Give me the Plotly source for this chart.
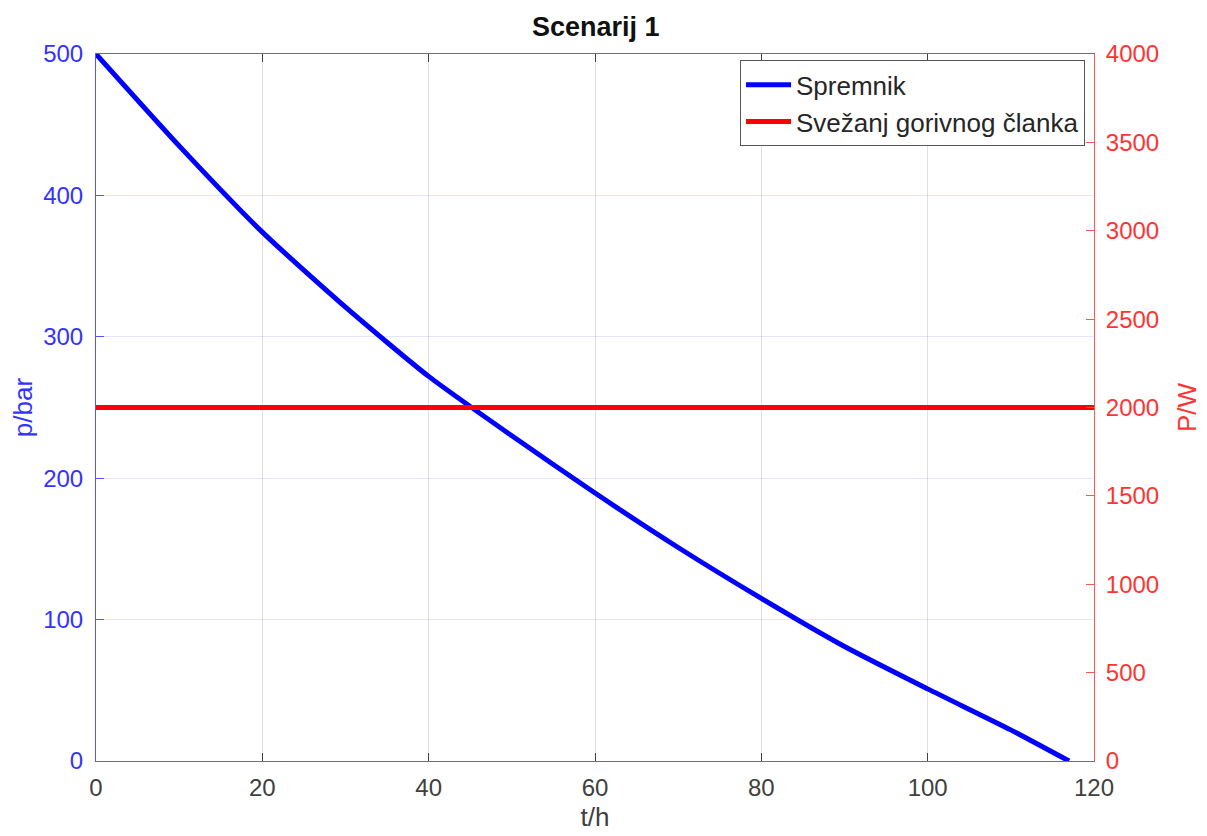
import plotly.graph_objects as go

# vrijeme (h) i tlak u spremniku (bar), očitano s grafa
t_h = [0, 10, 20, 30, 40, 50, 60, 70, 80, 90, 100, 110, 117]
p_bar = [500, 435, 374, 321, 272, 230, 189.5, 151, 115, 81, 51, 22, 0]

# snaga svežnja gorivnog članka (W)
t_snaga = [0, 120]
P_W = [2000, 2000]

plava = "#0000ff"
crvena = "#ff0000"
tekst_plavi = "#3333ff"
tekst_crveni = "#ff3333"
siva = "#404040"
font_ime = "Liberation Sans, Arial, sans-serif"

fig = go.Figure()

fig.add_trace(go.Scatter(
    x=t_h, y=p_bar, mode="lines", name="Spremnik",
    line=dict(color=plava, width=5, shape="spline", smoothing=0.6),
    yaxis="y"
))

fig.add_trace(go.Scatter(
    x=t_snaga, y=P_W, mode="lines", name="Svežanj gorivnog članka",
    line=dict(color=crvena, width=5),
    yaxis="y2"
))

# stranica ima 8 px margine tijela, pa je sve pomaknuto za 8 px
fig.update_layout(
    width=1207, height=836,
    paper_bgcolor="white", plot_bgcolor="white",
    margin=dict(l=88, r=121, t=46, b=83, autoexpand=False),
    font=dict(family=font_ime, size=24, color=siva),
    title=dict(text="<b>Scenarij 1</b>", x=0.487, xanchor="center",
               y=0.978, yanchor="middle",
               font=dict(size=27, color="#111111")),
    xaxis=dict(
        range=[0, 120], dtick=20, tick0=0, automargin=False,
        ticks="inside", ticklen=8, tickcolor=siva,
        showline=True, linecolor="#707070", linewidth=1, mirror="ticks",
        showgrid=True, gridcolor="rgba(0,0,0,0.12)", gridwidth=1,
        zeroline=False, ticklabelstandoff=5,
        tickfont=dict(size=24, color=siva),
        title=dict(text="t/h", font=dict(size=26, color=siva), standoff=8),
    ),
    yaxis=dict(
        range=[0, 500], dtick=100, tick0=0, automargin=False,
        ticks="inside", ticklen=8, tickcolor="#5555ff",
        showline=True, linecolor="#5555ff", linewidth=1,
        showgrid=True, gridcolor="rgba(0,0,255,0.10)", gridwidth=1,
        zeroline=False, ticklabelstandoff=7,
        tickfont=dict(size=24, color=tekst_plavi),
        title=dict(text="p/bar", font=dict(size=26, color=tekst_plavi), standoff=6),
    ),
    yaxis2=dict(
        range=[0, 4000], dtick=500, tick0=0, automargin=False,
        overlaying="y", side="right",
        ticks="inside", ticklen=8, tickcolor="#ff5555",
        showline=True, linecolor="#ff5555", linewidth=1,
        showgrid=False, zeroline=False, ticklabelstandoff=6,
        tickfont=dict(size=24, color=tekst_crveni),
        title=dict(text="P/W", font=dict(size=26, color=tekst_crveni), standoff=19),
    ),
    legend=dict(
        x=0.991, y=0.991, xanchor="right", yanchor="top",
        bgcolor="white", bordercolor="#555555", borderwidth=1,
        font=dict(size=26, color="#262626"),
        itemwidth=45, tracegroupgap=0,
    ),
    showlegend=True,
)

fig.write_html("out.html")
